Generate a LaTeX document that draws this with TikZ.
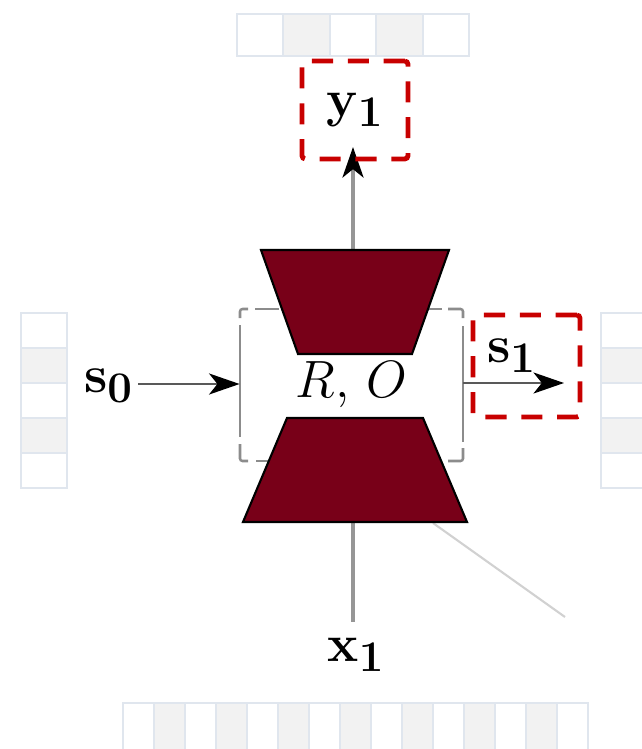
\documentclass[tikz,border=0pt]{standalone}
\usetikzlibrary{arrows.meta}
\definecolor{trapred}{RGB}{120,0,24}
\definecolor{dred}{RGB}{200,0,0}
\definecolor{cellb}{RGB}{224,230,238}
\definecolor{cellg}{RGB}{242,242,242}
\definecolor{boxgray}{RGB}{140,140,140}
\definecolor{linegray}{RGB}{150,150,150}
\begin{document}
\begin{tikzpicture}[x=0.474pt,y=-0.474pt,
  cellw/.style={draw=cellb,fill=white,line width=1pt},
  cellgr/.style={draw=cellb,fill=cellg,line width=1pt},
  trapz/.style={fill=trapred,draw=black,line width=1pt,line join=miter},
  reddash/.style={draw=dred,line width=2.3pt,dash pattern=on 10pt off 7pt,rounded corners=1.5pt},
  graybox/.style={draw=boxgray,line width=1.2pt,rounded corners=1.2pt},
  vconn/.style={draw=linegray,line width=1.6pt},
  hconn/.style={draw=black!65,line width=1pt},
  tip/.style={-{Stealth[length=14.5pt,width=10pt,inset=4pt,black]}},
  lbl/.style={font=\Huge,inner sep=0pt}
]
\useasboundingbox (0,0) rectangle (641,749);
% ---- strips ----
\foreach \i in {0,...,4}{
  \pgfmathtruncatemacro{\g}{mod(\i,2)}
  \ifnum\g=0 \def\st{cellw}\else\def\st{cellgr}\fi
  \path[\st] ({237+46.4*\i},14) rectangle ({237+46.4*(\i+1)},56);
  \path[\st] (21,{313+35*\i}) rectangle (67,{313+35*(\i+1)});
  \path[\st] (601,{313+35*\i}) rectangle (660,{313+35*(\i+1)});
}
\foreach \i in {0,...,14}{
  \pgfmathtruncatemacro{\g}{mod(\i,2)}
  \ifnum\g=0 \def\st{cellw}\else\def\st{cellgr}\fi
  \path[\st] ({123+31*\i},703) rectangle ({123+31*(\i+1)},762);
}
% ---- diagonal light line ----
\coordinate (dA) at (433,523);
\coordinate (dB) at (565,617);
\draw[draw=black!18,line width=1pt] (dA) -- (dB);
% ---- central R,O box (dashed gray) ----
\node[lbl,minimum width=105.7pt,minimum height=72pt] (ro) at (351.5,385) {$R,\, O$};
\draw[graybox] (240,318) -- (240,309) -- (248,309);
\draw[graybox] (255,309) -- (279,309);
\draw[graybox] (426,309) -- (442,309);
\draw[graybox] (448,309) -- (463,309) -- (463,318);
\draw[graybox] (240,444) -- (240,461) -- (248,461);
\draw[graybox] (256,461) -- (272,461);
\draw[graybox] (430,461) -- (442,461);
\draw[graybox] (448,461) -- (463,461) -- (463,448);
\draw[graybox] (240,325) -- (240,437);
\draw[graybox] (463,326) -- (463,442);
% ---- vertical connectors ----
\coordinate (uptop) at (353,250);
\coordinate (ytip) at (353,147);
\coordinate (downbot) at (353,522);
\coordinate (xend) at (353,622);
\draw[vconn] (downbot) -- (xend);
\draw[vconn,tip] (uptop) -- (ytip);
% ---- trapezoids ----
\draw[trapz] (261,250) -- (449,250) -- (412,354) -- (298,354) -- cycle;
\draw[trapz] (287,418) -- (423,418) -- (467,522) -- (243,522) -- cycle;
% ---- labels ----
\node[lbl] (y1) at (355,110) {$\mathbf{y}_{\mathbf{1}}$};
\node[reddash,minimum width=50.2pt,minimum height=46.4pt,inner sep=0pt] (ybox) at (355,110) {};
\node[lbl] (x1) at (356,655) {$\mathbf{x}_{\mathbf{1}}$};
\node[lbl] (s0) at (108.5,385.5) {$\mathbf{s}_{\mathbf{0}}$};
\node[lbl] (s1) at (511.5,356) {$\mathbf{s}_{\mathbf{1}}$};
\node[reddash,minimum width=50.7pt,minimum height=48.3pt,inner sep=0pt] (sbox) at (526.5,366) {};
% ---- horizontal connectors ----
\coordinate (s0start) at (138,384);
\coordinate (s1tip) at (564,383);
\draw[hconn,tip] (s0start) -- (ro.west |- s0start);
\draw[hconn,tip] (ro.east |- s1tip) -- (s1tip);
\end{tikzpicture}
\end{document}
